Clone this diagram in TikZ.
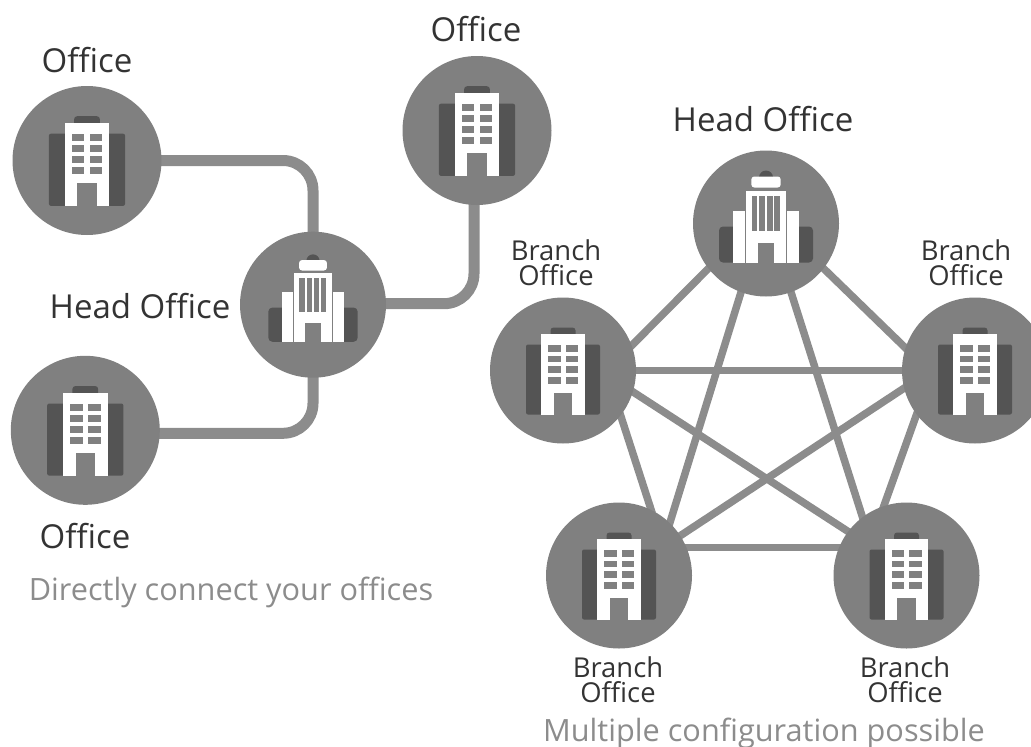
\documentclass[tikz,border=0pt]{standalone}
\usepackage{fontspec}
\setmainfont{Open Sans}
\usetikzlibrary{backgrounds}
\definecolor{disc}{gray}{0.5}
\definecolor{bar}{gray}{0.55}
\definecolor{darkb}{gray}{0.33}
\definecolor{capt}{gray}{0.55}
\definecolor{ink}{gray}{0.2}
\tikzset{
  x=1pt,y=-1pt,
  hub/.style={circle,fill=disc,minimum size=146pt,inner sep=0pt},
  large hub/.style={hub,minimum size=149pt},
  thick link/.style={draw=bar,line width=11pt,rounded corners=30pt},
  thin link/.style={draw=bar,line width=7.5pt,shorten >=-4pt,shorten <=-4pt},
  big/.style={font=\fontsize{33}{33}\selectfont,text=ink,inner sep=0pt},
  small/.style={font=\fontsize{27.4}{25}\selectfont,text=ink,inner sep=0pt,align=center},
  capn/.style={font=\fontsize{30.7}{31}\selectfont,text=capt,inner sep=0pt},
  officeicon/.pic={
    \fill[darkb,rounded corners=2pt] (-37,44) -- (-37,-26) -- (37,-26) -- (37,44) -- cycle;
    \fill[darkb,rounded corners=3pt] (-12.5,-30) -- (-12.5,-43) -- (12.5,-43) -- (12.5,-30) -- cycle;
    \fill[white] (-21.6,-36.7) rectangle (21.6,44.3);
    \foreach \a/\b in {-25.7/-19,-15/-8.3,-4.3/2.3,6.3/13}{
      \fill[disc] (-14.8,\a) rectangle (-2.5,\b);
      \fill[disc] (2.8,\a) rectangle (15,\b);
    }
    \fill[disc] (-9.3,22.3) rectangle (9.3,44.3);
  },
  hqicon/.pic={
    \fill[darkb,rounded corners=4pt] (-47,39) -- (-47,3) -- (47,3) -- (47,39) -- cycle;
    \fill[white] (-33,-13) rectangle (33,39);
    \fill[darkb] (-7,-46) arc (180:360:7) -- cycle;
    \fill[white,rounded corners=3pt] (-14.7,-36) -- (-14.7,-47) -- (14.7,-47) -- (14.7,-36) -- cycle;
    \fill[white] (-20,-33) rectangle (20,39);
    \fill[disc] (-20.7,-13) rectangle (-19.7,39);
    \fill[disc] (19.7,-13) rectangle (20.7,39);
    \foreach \a/\b in {-14.3/-8.7,-6.7/-1.5,1/6.7,8.3/14}{
      \fill[disc] (\a,-28) rectangle (\b,7.3);
    }
    \fill[disc] (-8.3,19) rectangle (8.3,39);
  }
}
\begin{document}
\begin{tikzpicture}
\useasboundingbox (0,0) rectangle (1031,747);
\node[large hub] (o1) at (87,160.5) {};
\node[large hub] (o2) at (477,130.5) {};
\node[hub] (hq) at (313,304.7) {};
\node[large hub] (o3) at (85.3,430.3) {};
\node[hub] (h2) at (766,223.5) {};
\node[hub] (bl) at (563,370.5) {};
\node[hub] (br) at (975,370.5) {};
\node[hub] (bs) at (619,575.5) {};
\node[hub] (be) at (906.5,575.5) {};
\begin{pgfonlayer}{background}
\draw[thick link] (o1.center) -| (hq.center);
\draw[thick link] ([yshift=-3pt]o3.center) -| (hq.center);
\draw[thick link] ([yshift=1pt]hq.center) -| ([xshift=-3pt]o2.center);
\draw[thin link] (bl.center) -- (br.center);
\draw[thin link] ([yshift=28pt]bs.center) -- ([yshift=28pt]be.center);
\draw[thin link] (bl.-17.3) -- (be.143.6);
\draw[thin link] (bl.-38.8) -- (bs.64.4);
\draw[thin link] (br.194) -- (bs.33.6);
\draw[thin link] (br.217) -- (be.108);
\draw[thin link] (h2.250.8) -- (bs.46);
\draw[thin link] (h2.-70.2) -- (be.127);
\draw[thin link] (h2.218.7) -- (bl.20.6);
\draw[thin link] (h2.-38.7) -- (br.162.6);
\end{pgfonlayer}
\foreach \n in {o1,o2,o3}{\pic[scale=1.03] at (\n) {officeicon};}
\foreach \n in {bl,br,bs,be}{\pic at (\n) {officeicon};}
\pic[scale=.95] at (hq) {hqicon};
\pic at (h2) {hqicon};
\node[big] (t1) at (87,60) {Office};
\node[big] (t2) at (476,29) {Office};
\node[big] (t3) at (140,306) {Head Office};
\node[big] (t4) at (85,536) {Office};
\node[big] (t5) at (763,119) {Head Office};
\node[small] (t6) at (556,263) {Branch\\Office};
\node[small] (t7) at (966,263) {Branch\\Office};
\node[small] (t8) at (618,679.5) {Branch\\Office};
\node[small] (t9) at (905,679.5) {Branch\\Office};
\node[capn] (c1) at (231,592.5) {Directly connect your offices};
\node[capn] (c2) at (764,733) {Multiple configuration possible};
\end{tikzpicture}
\end{document}
